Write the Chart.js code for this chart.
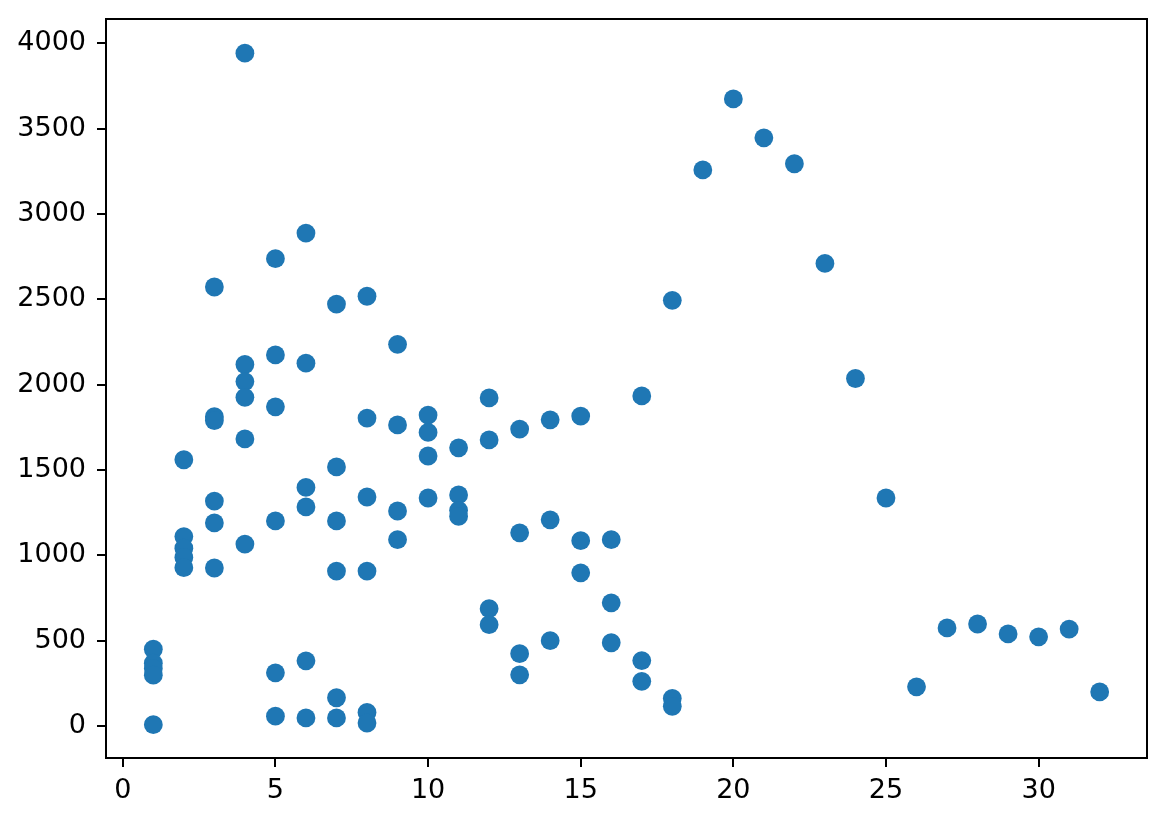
<!DOCTYPE html>
<html>
<head>
<meta charset="utf-8">
<script src="https://cdn.jsdelivr.net/npm/chart.js@4/dist/chart.umd.min.js"></script>
<style>
  body { margin: 0; background: #fff; }
  #wrap { width: 1166px; height: 822px; }
</style>
</head>
<body>
<div id="wrap"><canvas id="myChart" width="1166" height="822"></canvas></div>
<script>
// values, one line per x group
var xValues = [
	1, 1, 1, 1, 1,
	2, 2, 2, 2, 2,
	3, 3, 3, 3, 3, 3,
	4, 4, 4, 4, 4, 4,
	5, 5, 5, 5, 5, 5,
	6, 6, 6, 6, 6, 6,
	7, 7, 7, 7, 7, 7,
	8, 8, 8, 8, 8, 8,
	9, 9, 9, 9,
	10, 10, 10, 10,
	11, 11, 11, 11,
	12, 12, 12, 12,
	13, 13, 13, 13,
	14, 14, 14,
	15, 15, 15,
	16, 16, 16,
	17, 17, 17,
	18, 18, 18,
	19, 20, 21, 22, 23, 24, 25, 26, 27, 28, 29, 30, 31, 32
];
var yValues = [
	450, 368, 338, 298, 8,
	1560, 1110, 1042, 988, 928,
	2572, 1812, 1790, 1318, 1190, 926,
	3942, 2118, 2018, 1926, 1682, 1066,
	2738, 2174, 1870, 1202, 312, 58,
	2888, 2126, 1398, 1284, 382, 48,
	2472, 1518, 1202, 908, 166, 48,
	2518, 1804, 1342, 908, 80, 18,
	2236, 1764, 1260, 1092,
	1822, 1720, 1582, 1336,
	1630, 1354, 1264, 1228,
	1922, 1676, 688, 594,
	1740, 1132, 424, 300,
	1794, 1208, 500,
	1816, 1086, 898,
	1092, 722, 488,
	1934, 384, 262,
	2494, 162, 116,
	3258, 3674, 3446, 3294, 2710, 2036, 1336, 230, 575, 598, 540, 523, 568, 200
];
var xTicks = [0, 5, 10, 15, 20, 25, 30];
var yTicks = [0, 500, 1000, 1500, 2000, 2500, 3000, 3500, 4000];

var points = xValues.map(function(x, i){
	return { x: x, y: yValues[i] };
});

// top and right spines, chart.js only draws the axis sides
var frame = {
	id: 'frame',
	afterDatasetsDraw: function(chart){
		var a = chart.chartArea;
		var ctx = chart.ctx;
		ctx.save();
		ctx.strokeStyle = '#000';
		ctx.lineWidth = 2;
		ctx.strokeRect(a.left, a.top, a.right - a.left, a.bottom - a.top);
		ctx.restore();
	}
};

Chart.defaults.font.family = "'DejaVu Sans', sans-serif";
Chart.defaults.font.size = 27;
Chart.defaults.color = '#000';

function noPad(scale){
	scale.paddingTop = 0;
	scale.paddingBottom = 0;
	scale.paddingLeft = 0;
	scale.paddingRight = 0;
}

var ctx = document.getElementById('myChart').getContext('2d');
var chart = new Chart(ctx, {
	type: 'scatter',
	data: {
		datasets: [{
			data: points,
			backgroundColor: '#1f77b4',
			borderWidth: 0,
			pointRadius: 9.4,
			pointHoverRadius: 9.4
		}]
	},
	options: {
		responsive: false,
		devicePixelRatio: 1,
		animation: false,
		events: [],
		layout: { padding: { left: 0, top: 19, right: 19, bottom: 0 } },
		plugins: {
			legend: { display: false },
			tooltip: { enabled: false }
		},
		scales: {
			x: {
				type: 'linear',
				min: -0.55,
				max: 33.55,
				afterBuildTicks: function(scale){
					scale.ticks = xTicks.map(function(v){ return { value: v }; });
				},
				afterFit: function(scale){ scale.height = 64; noPad(scale); },
				grid: { drawOnChartArea: false, drawTicks: true, tickLength: 9, color: '#000', lineWidth: 2 },
				border: { display: true, color: '#000', width: 2 },
				ticks: { padding: 8, maxRotation: 0, callback: function(v){ return String(v); } }
			},
			y: {
				type: 'linear',
				min: -187,
				max: 4142,
				afterBuildTicks: function(scale){
					scale.ticks = yTicks.map(function(v){ return { value: v }; });
				},
				afterFit: function(scale){ scale.width = 106; noPad(scale); },
				grid: { drawOnChartArea: false, drawTicks: true, tickLength: 9, color: '#000', lineWidth: 2 },
				border: { display: true, color: '#000', width: 2 },
				ticks: { padding: 11, callback: function(v){ return String(v); } }
			}
		}
	},
	plugins: [frame]
});
</script>
</body>
</html>
